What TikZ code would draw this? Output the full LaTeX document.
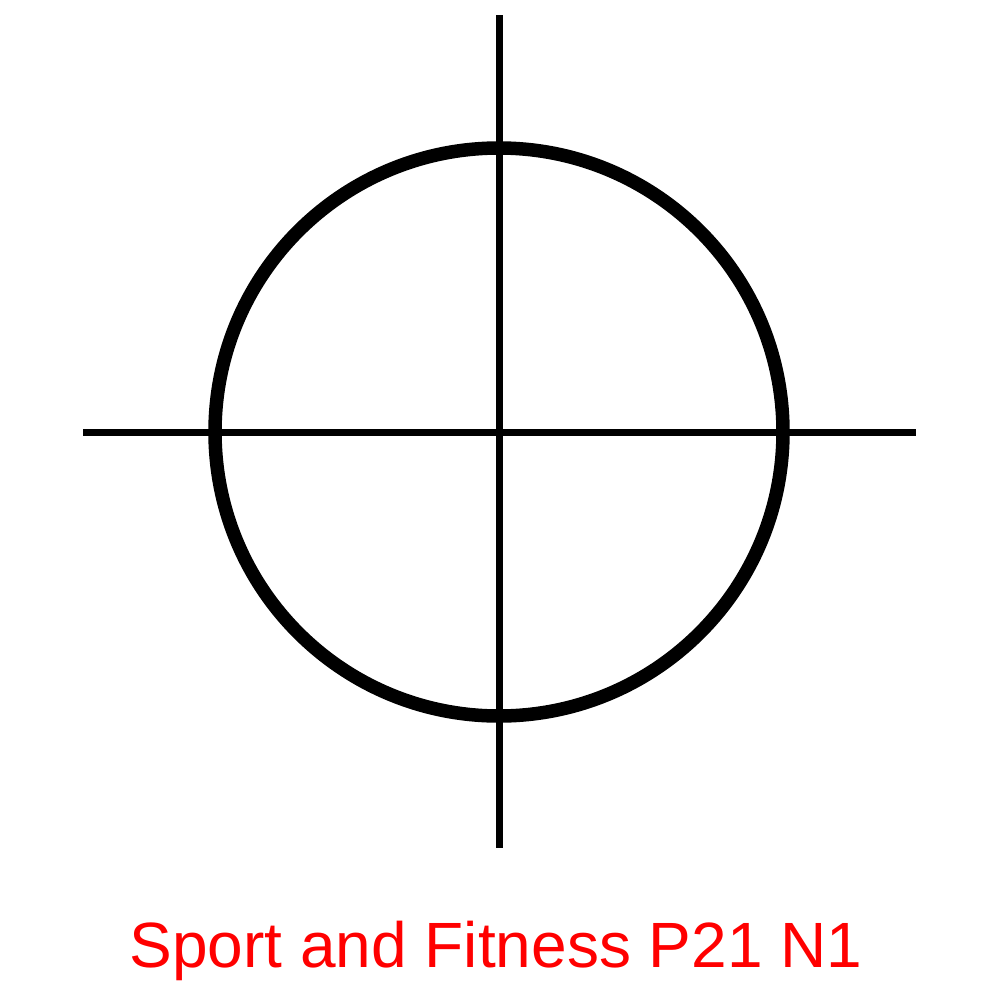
\documentclass[tikz,border=0pt]{standalone}
\usepackage{fontspec}
\setmainfont{Liberation Sans}
\begin{document}
\begin{tikzpicture}[x=0.01cm,y=-0.01cm,
  axis/.style={line width=0.07cm,black},
  ring/.style={line width=0.135cm,black},
  caption/.style={text=red,font=\fontsize{18.2}{22}\selectfont,inner sep=0pt,anchor=base}]
\useasboundingbox (0,0) rectangle (1000,1000);
\coordinate (top) at (499,15);
\coordinate (bot) at (499,848);
\coordinate (lft) at (83,432);
\coordinate (rgt) at (916,432);
\coordinate (c) at (499,432);
\draw[axis] (top) -- (bot);
\draw[axis] (lft) -- (rgt);
\draw[ring] (c) circle[radius=284];
\node[caption] (cap) at (496,967) {Sport and Fitness P21 N1};
\end{tikzpicture}
\end{document}
